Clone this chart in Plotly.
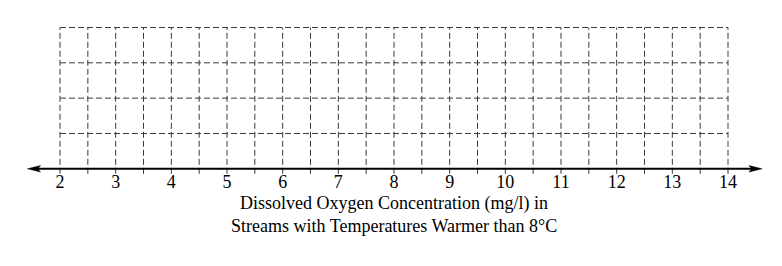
import plotly.graph_objects as go

# ---- data ----
tick_values = [2, 3, 4, 5, 6, 7, 8, 9, 10, 11, 12, 13, 14]
tick_labels = [str(v) for v in tick_values]
grid_x = [2 + 0.5 * i for i in range(25)]   # vertical grid positions
grid_y = [1, 2, 3, 4]                       # horizontal grid rows
x_min, x_max = 2, 14
title_lines = ["Dissolved Oxygen Concentration (mg/l) in",
               "Streams with Temperatures Warmer than 8\u00b0C"]

# ---- geometry ----
W, H = 782, 266
px_per_x = (728 - 60) / (x_max - x_min)
x0 = x_min - 60 / px_per_x
x1 = x0 + W / px_per_x
axis_py = 168.8
px_per_y = (axis_py - 27.5) / 4
y_top = axis_py / px_per_y
y_bot = -(H - axis_py) / px_per_y

grid_color = "#3a3a3a"
dash = "6px,3px"
font = "Liberation Serif, Times New Roman, serif"

shapes = []
for gx in grid_x:
    shapes.append(dict(type="line", xref="x", yref="y", x0=gx, x1=gx,
                       y0=-5 / px_per_y, y1=4,
                       line=dict(color=grid_color, width=1, dash=dash)))
for gy in grid_y:
    shapes.append(dict(type="line", xref="x", yref="y", x0=x_min, x1=x_max,
                       y0=gy, y1=gy,
                       line=dict(color=grid_color, width=1, dash=dash)))

# number line with arrowheads
left_tip = x0 + 27.5 / px_per_x
right_tip = x0 + 762 / px_per_x
ah_len = 13 / px_per_x
ah_half = 3.2 / px_per_y
shapes.append(dict(type="line", xref="x", yref="y", x0=left_tip + ah_len * 0.5,
                   x1=right_tip - ah_len * 0.5, y0=0, y1=0,
                   line=dict(color="black", width=2)))
shapes.append(dict(type="path", xref="x", yref="y",
                   path=f"M {left_tip},0 L {left_tip + ah_len},{ah_half} "
                        f"L {left_tip + ah_len * 0.8},0 L {left_tip + ah_len},{-ah_half} Z",
                   fillcolor="black", line=dict(color="black", width=0.5)))
shapes.append(dict(type="path", xref="x", yref="y",
                   path=f"M {right_tip},0 L {right_tip - ah_len},{ah_half} "
                        f"L {right_tip - ah_len * 0.8},0 L {right_tip - ah_len},{-ah_half} Z",
                   fillcolor="black", line=dict(color="black", width=0.5)))

fig = go.Figure()
fig.add_trace(go.Scatter(x=tick_values, y=[0] * len(tick_values), mode="markers",
                         marker=dict(opacity=0), hoverinfo="skip", showlegend=False))

fig.update_layout(
    width=W, height=H,
    margin=dict(l=0, r=0, t=0, b=0),
    paper_bgcolor="white", plot_bgcolor="white",
    shapes=shapes,
    xaxis=dict(range=[x0, x1], tickvals=tick_values, ticktext=tick_labels,
               showgrid=False, zeroline=False, showline=False, ticks="",
               anchor="free", position=(H - axis_py) / H,
               tickfont=dict(family=font, size=18, color="black"),
               fixedrange=True),
    yaxis=dict(range=[y_bot, y_top], visible=False, fixedrange=True),
    annotations=[
        dict(x=(x_min + x_max) / 2, y=(axis_py - 203) / px_per_y, xref="x", yref="y",
             text=title_lines[0], showarrow=False,
             font=dict(family=font, size=18, color="black")),
        dict(x=(x_min + x_max) / 2, y=(axis_py - 226) / px_per_y, xref="x", yref="y",
             text=title_lines[1], showarrow=False,
             font=dict(family=font, size=18, color="black")),
    ],
)

fig.write_html("out.html")
